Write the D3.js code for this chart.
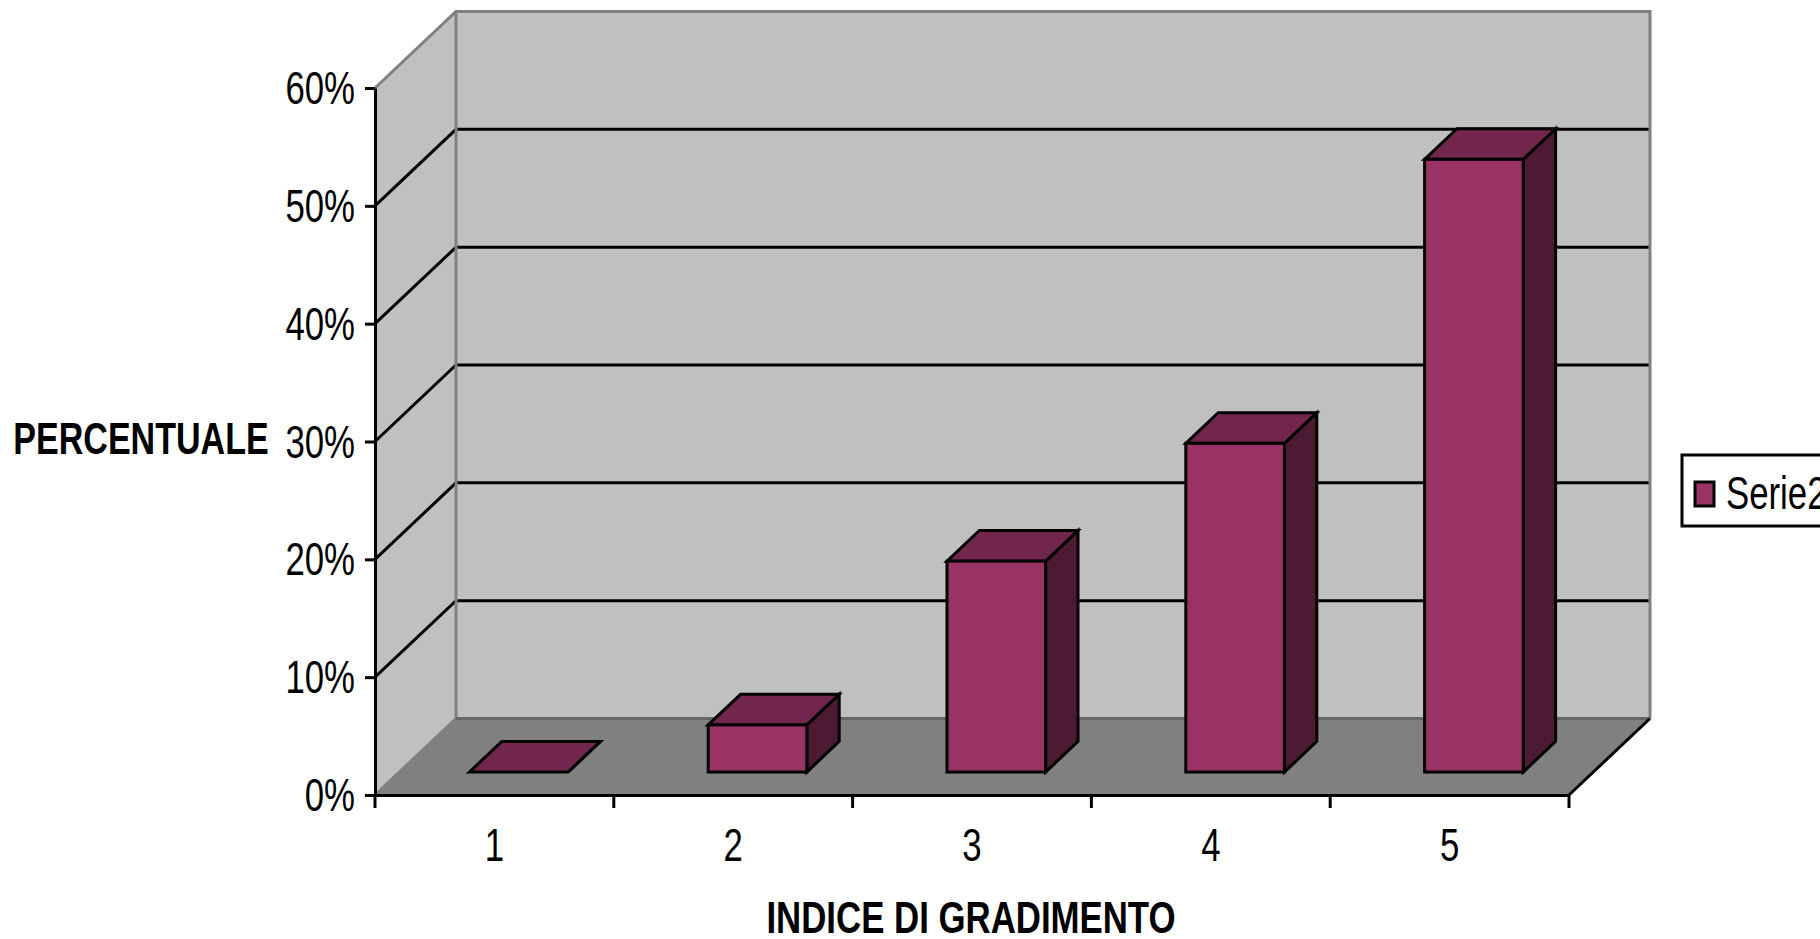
<!DOCTYPE html>
<html>
<head>
<meta charset="utf-8">
<script src="https://cdn.jsdelivr.net/npm/d3@7"></script>
<style>
	html, body { margin: 0; padding: 0; background: #fff; overflow: hidden; }
	svg { display: block; }
	text { font-family: "Liberation Sans", Arial, sans-serif; fill: #000; }
</style>
</head>
<body>
<div id="chart"></div>
<script>
const categories = ['1', '2', '3', '4', '5'];
const values = [0, 0.04, 0.179, 0.279, 0.52];
const yTickValues = [0, 0.1, 0.2, 0.3, 0.4, 0.5, 0.6];
const seriesName = 'Serie2';
const xTitle = 'INDICE DI GRADIMENTO';
const yTitle = 'PERCENTUALE';

const width = 1820;
const height = 939;
const plot = { left: 375, right: 1569, top: 88, bottom: 795 };
// Depth of the 3D box
const depthX = 81;
const depthY = -76.5;
// Bars sit between these fractions of the depth
const barFront = 0.3;
const barBack = 0.7;
const barWidth = 98.6;
const lineWidth = 3;
const labelSize = 47;
const titleSize = 45;

const colors = {
	wall: '#c0c0c0',
	floor: '#808080',
	edge: '#808080',
	front: '#993366',
	side: '#4d1a33',
	top: '#73264d',
};

const svg = d3.select('#chart').append('svg').attr('width', width).attr('height', height);

const x = d3.scaleBand().domain(categories).range([plot.left, plot.right]);
const y = d3.scaleLinear().domain([0, 0.6]).range([plot.bottom, plot.top]);
const poly = (pts) => 'M' + pts.map((p) => p.join(',')).join('L') + 'Z';

// The original font is a horizontally squeezed Arial
function squeeze(selection, ratio) {
	selection.each(function () {
		d3.select(this)
			.attr('textLength', this.getComputedTextLength() * ratio)
			.attr('lengthAdjust', 'spacingAndGlyphs');
	});
}

// Walls and floor
const walls = svg.append('g');
const backTop = y(0.6) + depthY;
const backBottom = y(0) + depthY;
const backLeft = plot.left + depthX;
const backRight = plot.right + depthX;

walls.append('path')
	.attr('d', poly([[plot.left, y(0)], [backLeft, backBottom], [backLeft, backTop], [plot.left, y(0.6)]]))
	.attr('fill', colors.wall);
walls.append('path')
	.attr('d', poly([[backLeft, backTop], [backRight, backTop], [backRight, backBottom], [backLeft, backBottom]]))
	.attr('fill', colors.wall);
walls.append('path')
	.attr('d', poly([[plot.left, y(0)], [plot.right, y(0)], [backRight, backBottom], [backLeft, backBottom]]))
	.attr('fill', colors.floor);

// Gridlines on the side and back walls
const gridTicks = yTickValues.filter((d) => d > 0 && d < 0.6);
const grid = svg.append('g').attr('stroke', '#000').attr('stroke-width', lineWidth).attr('fill', 'none');
gridTicks.forEach((d) => {
	grid.append('path')
		.attr('d', `M${plot.left},${y(d)}L${backLeft},${y(d) + depthY}L${backRight},${y(d) + depthY}`);
});

// Wall edges
const edges = svg.append('g').attr('stroke', colors.edge).attr('stroke-width', lineWidth).attr('fill', 'none');
edges.append('path').attr('d', `M${plot.left},${y(0.6)}L${backLeft},${backTop}L${backRight},${backTop}L${backRight},${backBottom}`);
edges.append('path').attr('d', `M${backLeft},${backTop}L${backLeft},${backBottom}`);
edges.append('path').attr('d', `M${plot.left},${y(0)}L${backLeft},${backBottom}`);
edges.append('path').attr('d', `M${backLeft},${backBottom}L${backRight},${backBottom}`).attr('stroke', '#666');

// Floor front right edge
svg.append('path')
	.attr('d', `M${plot.right},${y(0)}L${backRight},${backBottom}`)
	.attr('stroke', '#000')
	.attr('stroke-width', lineWidth);

// Bars
const bars = svg.append('g')
	.selectAll('g')
	.data(categories.map((c, i) => ({ c, v: values[i] })))
	.join('g')
	.attr('stroke', '#000')
	.attr('stroke-width', lineWidth)
	.attr('stroke-linejoin', 'miter');

const frontX = (d) => x(d.c) + (x.bandwidth() - barWidth) / 2 + depthX * barFront;
const baseY = y(0) + depthY * barFront;
const topY = (d) => baseY - (y(0) - y(d.v));
const dx = depthX * (barBack - barFront);
const dy = depthY * (barBack - barFront);

bars.append('path')
	.attr('fill', colors.side)
	.attr('d', (d) => {
		const r = frontX(d) + barWidth;
		return poly([[r, baseY], [r + dx, baseY + dy], [r + dx, topY(d) + dy], [r, topY(d)]]);
	});
bars.append('path')
	.attr('fill', colors.top)
	.attr('d', (d) => {
		const l = frontX(d);
		return poly([[l, topY(d)], [l + dx, topY(d) + dy], [l + barWidth + dx, topY(d) + dy], [l + barWidth, topY(d)]]);
	});
bars.append('rect')
	.attr('fill', colors.front)
	.attr('x', frontX)
	.attr('y', topY)
	.attr('width', barWidth)
	.attr('height', (d) => baseY - topY(d));

// Axes
const yAxis = d3.axisLeft(y)
	.tickValues(yTickValues)
	.tickFormat(d3.format('.0%'))
	.tickSize(10)
	.tickPadding(10)
	.tickSizeOuter(0);
const gy = svg.append('g').attr('transform', `translate(${plot.left},0)`).call(yAxis);

const xAxis = d3.axisBottom(x).tickSize(0).tickPadding(33).tickSizeOuter(0);
const gx = svg.append('g').attr('transform', `translate(0,${plot.bottom})`).call(xAxis);

// Category ticks sit on the band edges, not the centers
gx.selectAll('.edge-tick')
	.data(categories.map((c) => x(c)).concat(plot.right))
	.join('line')
	.attr('class', 'edge-tick')
	.attr('x1', (d) => d)
	.attr('x2', (d) => d)
	.attr('y1', 0)
	.attr('y2', 13)
	.attr('stroke', '#000')
	.attr('stroke-width', lineWidth);

[gx, gy].forEach((g) => {
	g.selectAll('.domain').attr('stroke', '#000').attr('stroke-width', lineWidth);
	g.selectAll('.tick line').attr('stroke', '#000').attr('stroke-width', lineWidth);
	g.selectAll('text').attr('font-size', labelSize).attr('fill', '#000')
		.style('font-family', '"Liberation Sans", Arial, sans-serif')
		.call(squeeze, 0.74);
});
gy.selectAll('text').attr('dy', '0.33em');

// Axis titles
svg.append('text')
	.attr('x', 141)
	.attr('y', 442)
	.attr('dominant-baseline', 'middle')
	.attr('text-anchor', 'middle')
	.attr('font-size', titleSize)
	.attr('font-weight', 'bold')
	.text(yTitle)
	.call(squeeze, 0.757);
svg.append('text')
	.attr('x', 971)
	.attr('y', 921)
	.attr('dominant-baseline', 'middle')
	.attr('text-anchor', 'middle')
	.attr('font-size', titleSize)
	.attr('font-weight', 'bold')
	.text(xTitle)
	.call(squeeze, 0.773);

// Legend runs off the right edge of the page
const legend = svg.append('g');
legend.append('rect')
	.attr('x', 1682)
	.attr('y', 455)
	.attr('width', 200)
	.attr('height', 71)
	.attr('fill', '#fff')
	.attr('stroke', '#000')
	.attr('stroke-width', lineWidth);
legend.append('rect')
	.attr('x', 1695)
	.attr('y', 482)
	.attr('width', 19)
	.attr('height', 24)
	.attr('fill', colors.front)
	.attr('stroke', '#000')
	.attr('stroke-width', lineWidth);
legend.append('text')
	.attr('x', 1726)
	.attr('y', 497)
	.attr('dominant-baseline', 'middle')
	.attr('font-size', labelSize)
	.text(seriesName)
	.call(squeeze, 0.74);
</script>
</body>
</html>
